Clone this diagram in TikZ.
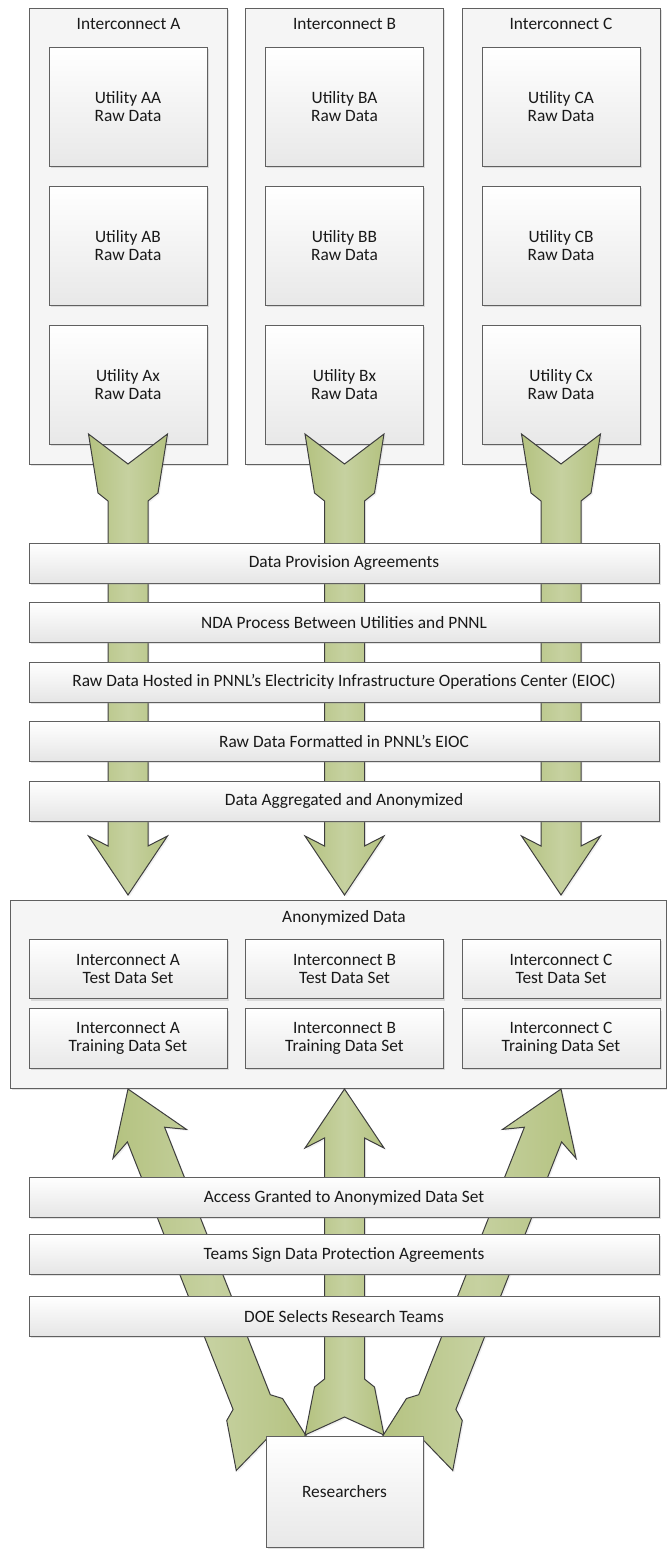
\documentclass[tikz,border=0pt]{standalone}
\usepackage{fontspec}
\setmainfont{Carlito}
\usepackage{xcolor}
\usepackage{tikz}
\usetikzlibrary{calc, shadows}

\definecolor{boxline}{RGB}{96,96,96}
\definecolor{arrowline}{RGB}{62,62,62}
\definecolor{leafdark}{RGB}{180,194,128}
\definecolor{leaflight}{RGB}{198,209,160}
\newcommand{\px}{0.75pt}

% fat block arrow: #1 tail, #2 tip, #3 notch depth, #4 tail arm (px)
\newcommand{\fatarrow}[4]{%
  \coordinate (fa-s) at ($(#1)!#4*\px!(#2)$);
  \coordinate (fa-t) at ($(#1)!#4*\px+8*\px!(#2)$);
  \coordinate (fa-h) at ($(#2)!49*\px!(#1)$);
  \coordinate (fa-w) at ($(#2)!59*\px!(#1)$);
  \path[bigarrow] ($(#1)!39.5*\px!90:(#2)$) -- ($(#1)!#3*\px!(#2)$)
    -- ($(#1)!39.5*\px!-90:(#2)$) -- ($(fa-s)!30*\px!-90:(#2)$)
    -- ($(fa-t)!20*\px!-90:(#2)$) -- ($(fa-h)!20*\px!90:(#1)$)
    -- ($(fa-w)!39.5*\px!90:(#1)$) -- (#2)
    -- ($(fa-w)!39.5*\px!-90:(#1)$) -- ($(fa-h)!20*\px!-90:(#1)$)
    -- ($(fa-t)!20*\px!90:(#2)$) -- ($(fa-s)!30*\px!90:(#2)$) -- cycle;
}

\tikzset{
  softshadow/.style={drop shadow={shadow xshift=1.4pt, shadow yshift=-1.4pt, opacity=0.25, fill=black!45}},
  txt/.style={font=\fontsize{13}{13.8}\selectfont, text=black!90, align=center, inner sep=0pt},
  colbox/.style={draw=boxline, line width=0.75pt, fill=black!4, softshadow,
    minimum width=198*\px, minimum height=456*\px},
  utilbox/.style={txt, draw=boxline, line width=0.75pt, top color=white, bottom color=black!9,
    softshadow, minimum width=158*\px, minimum height=119*\px},
  stepbar/.style={txt, draw=boxline, line width=0.75pt, top color=white, bottom color=black!10,
    softshadow, minimum width=630*\px, minimum height=40*\px},
  anonbox/.style={draw=boxline, line width=0.75pt, fill=black!4, softshadow,
    minimum width=656*\px, minimum height=188*\px},
  setbox/.style={txt, draw=boxline, line width=0.75pt, top color=white, bottom color=black!9,
    softshadow, minimum width=198*\px, minimum height=59.5*\px},
  bigarrow/.style={draw=arrowline, line width=0.75pt, line join=miter,
    left color=leafdark, right color=leafdark, middle color=leaflight,
    drop shadow={shadow xshift=1.2pt, shadow yshift=-1.2pt, opacity=0.15, fill=black!40}},
}

\begin{document}
\begin{tikzpicture}[x=0.75pt, y=-0.75pt]
\useasboundingbox (0,0) rectangle (667,1549);

% Interconnect columns
\node[colbox] (colA) at (128.5,236) {};
\node[colbox] (colB) at (344.5,236) {};
\node[colbox] (colC) at (561,236) {};
\node[txt] (ttlA) at (128.5,24) {Interconnect A};
\node[txt] (ttlB) at (344.5,24) {Interconnect B};
\node[txt] (ttlC) at (561,24) {Interconnect C};

% Utility raw data
\node[utilbox] (uAA) at (128,106.5) {Utility AA\\Raw Data};
\node[utilbox] (uAB) at (128,245.5) {Utility AB\\Raw Data};
\node[utilbox] (uAx) at (128,384.5) {Utility Ax\\Raw Data};
\node[utilbox] (uBA) at (344.5,106.5) {Utility BA\\Raw Data};
\node[utilbox] (uBB) at (344.5,245.5) {Utility BB\\Raw Data};
\node[utilbox] (uBx) at (344.5,384.5) {Utility Bx\\Raw Data};
\node[utilbox] (uCA) at (561,106.5) {Utility CA\\Raw Data};
\node[utilbox] (uCB) at (561,245.5) {Utility CB\\Raw Data};
\node[utilbox] (uCx) at (561,384.5) {Utility Cx\\Raw Data};

% Arrows down to the anonymized data
\coordinate (downA) at (128,434);
\coordinate (downB) at (344.5,434);
\coordinate (downC) at (561,434);
\coordinate (tipA) at (128,895);
\coordinate (tipB) at (344.5,895);
\coordinate (tipC) at (561,895);
\fatarrow{downA}{tipA}{30}{59}
\fatarrow{downB}{tipB}{30}{59}
\fatarrow{downC}{tipC}{30}{59}

% Steps on the way in
\node[stepbar] (bar1) at (344,563) {Data Provision Agreements};
\node[stepbar] (bar2) at (344,622.5) {NDA Process Between Utilities and PNNL};
\node[stepbar] (bar3) at (344,682) {Raw Data Hosted in PNNL’s Electricity Infrastructure Operations Center (EIOC)};
\node[stepbar] (bar4) at (344,741.5) {Raw Data Formatted in PNNL’s EIOC};
\node[stepbar] (bar5) at (344,801) {Data Aggregated and Anonymized};

% Anonymized data
\node[anonbox] (anon) at (338,994) {};
\node[txt] (anonttl) at (344,918) {Anonymized Data};
\node[setbox] (testA) at (128,969) {Interconnect A\\Test Data Set};
\node[setbox] (testB) at (344.5,969) {Interconnect B\\Test Data Set};
\node[setbox] (testC) at (561,969) {Interconnect C\\Test Data Set};
\node[setbox] (trainA) at (128,1038.5) {Interconnect A\\Training Data Set};
\node[setbox] (trainB) at (344.5,1038.5) {Interconnect B\\Training Data Set};
\node[setbox] (trainC) at (561,1038.5) {Interconnect C\\Training Data Set};

% Arrows up from the researchers
\coordinate (upA) at (273,1456);
\coordinate (upB) at (344.5,1435);
\coordinate (upC) at (416,1456);
\coordinate (goalA) at (128,1089);
\coordinate (goalB) at (344.5,1089);
\coordinate (goalC) at (561,1089);
\fatarrow{upA}{goalA}{18}{50}
\fatarrow{upB}{goalB}{18}{48}
\fatarrow{upC}{goalC}{18}{50}

% Steps on the way out
\node[stepbar] (bar6) at (344,1197.5) {Access Granted to Anonymized Data Set};
\node[stepbar] (bar7) at (344,1254.5) {Teams Sign Data Protection Agreements};
\node[stepbar] (bar8) at (344,1316.5) {DOE Selects Research Teams};

\node[utilbox, minimum width=157*\px, minimum height=111*\px] (res) at (344.5,1491.5) {Researchers};
\end{tikzpicture}
\end{document}
